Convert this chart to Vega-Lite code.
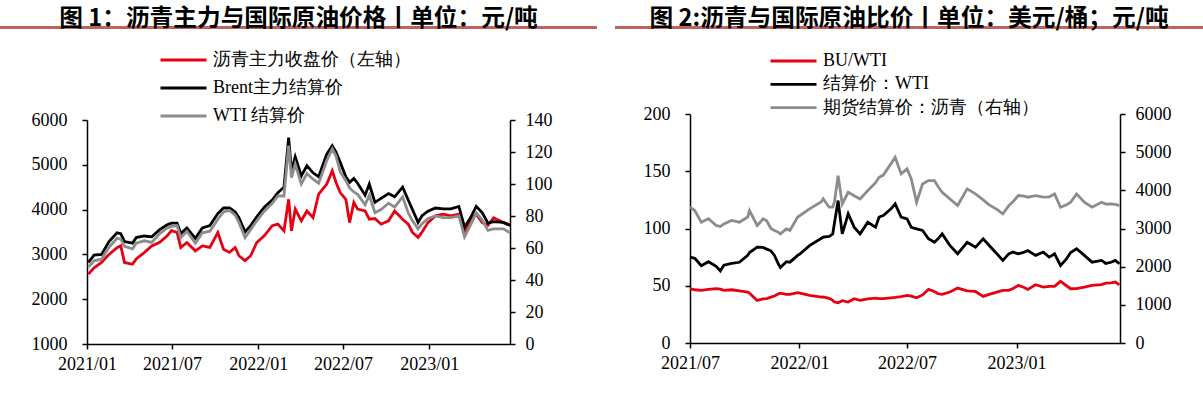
{
"$schema": "https://vega.github.io/schema/vega-lite/v6.json",
"padding": {"top": 6, "left": 0, "right": 0, "bottom": 0},
"background": "white",
"spacing": 18,
"resolve": {"scale": {"color": "independent"}, "legend": {"color": "independent"}},
"config": {
  "view": {"stroke": null},
  "axis": {"domainColor": "#000", "domainWidth": 1.5, "tickColor": "#000", "tickWidth": 1.5, "tickSize": 5, "labelFont": "Liberation Serif", "labelFontSize": 18, "labelColor": "#000", "grid": false, "title": null},
  "title": {"font": "Noto Sans CJK SC", "fontSize": 23.7, "fontWeight": "bold", "color": "#000", "anchor": "middle", "baseline": "alphabetic", "offset": -9},
  "legend": {"orient": "none", "direction": "vertical", "labelFont": "Liberation Serif", "labelFontSize": 18, "labelColor": "#000", "symbolType": "M-2.875,0H2.875", "symbolSize": 256, "symbolStrokeWidth": 3, "padding": 0, "labelLimit": 400, "labelOffset": 20},
  "line": {"strokeWidth": 2.8}
},
"datasets": {
  "p1": [
    {"d":"2021-01-04","bu":2560,"brent":51,"wti":48},
    {"d":"2021-01-16","bu":2700,"brent":55.5,"wti":52},
    {"d":"2021-02-01","bu":2820,"brent":56,"wti":53},
    {"d":"2021-02-17","bu":3000,"brent":64,"wti":60.5},
    {"d":"2021-03-06","bu":3150,"brent":69.5,"wti":66},
    {"d":"2021-03-14","bu":3190,"brent":69,"wti":65.5},
    {"d":"2021-03-22","bu":2820,"brent":64,"wti":61},
    {"d":"2021-04-08","bu":2780,"brent":63,"wti":59.5},
    {"d":"2021-04-16","bu":2900,"brent":66.5,"wti":63},
    {"d":"2021-05-03","bu":3040,"brent":67.5,"wti":64.5},
    {"d":"2021-05-19","bu":3190,"brent":67,"wti":63.5},
    {"d":"2021-06-05","bu":3270,"brent":71.5,"wti":69},
    {"d":"2021-06-21","bu":3415,"brent":74.5,"wti":72.5},
    {"d":"2021-06-30","bu":3530,"brent":75.5,"wti":73.5},
    {"d":"2021-07-12","bu":3490,"brent":75.5,"wti":74},
    {"d":"2021-07-20","bu":3155,"brent":69,"wti":66.5},
    {"d":"2021-08-02","bu":3265,"brent":72.5,"wti":70.5},
    {"d":"2021-08-20","bu":3080,"brent":66,"wti":63},
    {"d":"2021-09-04","bu":3190,"brent":72.5,"wti":69.5},
    {"d":"2021-09-20","bu":3155,"brent":74,"wti":70.5},
    {"d":"2021-10-07","bu":3490,"brent":81.5,"wti":78},
    {"d":"2021-10-19","bu":3115,"brent":85,"wti":82.5},
    {"d":"2021-11-01","bu":3045,"brent":85,"wti":83.5},
    {"d":"2021-11-13","bu":3155,"brent":82.5,"wti":80.5},
    {"d":"2021-11-21","bu":2970,"brent":79,"wti":76},
    {"d":"2021-12-04","bu":2860,"brent":70,"wti":66.5},
    {"d":"2021-12-16","bu":2970,"brent":74,"wti":71.5},
    {"d":"2021-12-29","bu":3265,"brent":79.5,"wti":77},
    {"d":"2022-01-14","bu":3415,"brent":85.5,"wti":83},
    {"d":"2022-01-31","bu":3640,"brent":90,"wti":88},
    {"d":"2022-02-12","bu":3675,"brent":94.5,"wti":92.5},
    {"d":"2022-02-25","bu":3525,"brent":98,"wti":92.5},
    {"d":"2022-03-07","bu":4230,"brent":129,"wti":124},
    {"d":"2022-03-13","bu":3525,"brent":108,"wti":104},
    {"d":"2022-03-21","bu":4010,"brent":117,"wti":112.5},
    {"d":"2022-04-03","bu":3750,"brent":105,"wti":100},
    {"d":"2022-04-15","bu":3970,"brent":111.5,"wti":106.5},
    {"d":"2022-04-28","bu":3820,"brent":107,"wti":103},
    {"d":"2022-05-10","bu":4345,"brent":104.5,"wti":100.5},
    {"d":"2022-05-27","bu":4565,"brent":118.5,"wti":114.5},
    {"d":"2022-06-08","bu":4865,"brent":124,"wti":122},
    {"d":"2022-06-16","bu":4605,"brent":120,"wti":117.5},
    {"d":"2022-06-25","bu":4380,"brent":113.5,"wti":107.5},
    {"d":"2022-07-07","bu":4230,"brent":104.5,"wti":102},
    {"d":"2022-07-15","bu":3710,"brent":101,"wti":97.5},
    {"d":"2022-07-24","bu":4160,"brent":103.5,"wti":95},
    {"d":"2022-08-01","bu":4010,"brent":100.5,"wti":93.5},
    {"d":"2022-08-17","bu":3970,"brent":93,"wti":87},
    {"d":"2022-08-26","bu":3785,"brent":100,"wti":93},
    {"d":"2022-09-07","bu":3800,"brent":88.5,"wti":82},
    {"d":"2022-09-20","bu":3675,"brent":91,"wti":84},
    {"d":"2022-10-06","bu":3750,"brent":94,"wti":88},
    {"d":"2022-10-19","bu":3970,"brent":92,"wti":85.5},
    {"d":"2022-11-05","bu":3785,"brent":98,"wti":92},
    {"d":"2022-11-17","bu":3675,"brent":90,"wti":82},
    {"d":"2022-11-26","bu":3490,"brent":84,"wti":77},
    {"d":"2022-12-08","bu":3380,"brent":76,"wti":72},
    {"d":"2022-12-16","bu":3490,"brent":80,"wti":75},
    {"d":"2022-12-29","bu":3710,"brent":83,"wti":78.5},
    {"d":"2023-01-14","bu":3860,"brent":85,"wti":80},
    {"d":"2023-01-31","bu":3900,"brent":84.5,"wti":79},
    {"d":"2023-02-16","bu":3860,"brent":84.5,"wti":79},
    {"d":"2023-03-05","bu":3900,"brent":86,"wti":80},
    {"d":"2023-03-17","bu":3490,"brent":73,"wti":67},
    {"d":"2023-03-30","bu":3785,"brent":79,"wti":74.5},
    {"d":"2023-04-11","bu":3900,"brent":86,"wti":82},
    {"d":"2023-04-24","bu":3710,"brent":82,"wti":77.5},
    {"d":"2023-05-06","bu":3650,"brent":75.5,"wti":71},
    {"d":"2023-05-18","bu":3820,"brent":76.5,"wti":72},
    {"d":"2023-06-08","bu":3710,"brent":76,"wti":72},
    {"d":"2023-06-22","bu":3660,"brent":74,"wti":69.5}
  ],
  "p2": [
    {"d":"2021-07-01","ratio":47.4,"wti":75,"bu":3560},
    {"d":"2021-07-09","ratio":46.5,"wti":74,"bu":3470},
    {"d":"2021-07-20","ratio":46,"wti":67.5,"bu":3165},
    {"d":"2021-08-01","ratio":46.8,"wti":71,"bu":3255},
    {"d":"2021-08-14","ratio":47.4,"wti":67,"bu":3080},
    {"d":"2021-08-21","ratio":47,"wti":63,"bu":3050},
    {"d":"2021-08-27","ratio":46,"wti":68,"bu":3120},
    {"d":"2021-09-09","ratio":46.5,"wti":69.5,"bu":3210},
    {"d":"2021-09-22","ratio":45.5,"wti":70.5,"bu":3165},
    {"d":"2021-10-06","ratio":44.5,"wti":76.5,"bu":3300},
    {"d":"2021-10-09","ratio":43.5,"wti":79,"bu":3470},
    {"d":"2021-10-22","ratio":37.2,"wti":83.7,"bu":3080},
    {"d":"2021-11-01","ratio":38.5,"wti":83.5,"bu":3255},
    {"d":"2021-11-07","ratio":38.7,"wti":82,"bu":3200},
    {"d":"2021-11-14","ratio":40,"wti":80.5,"bu":3000},
    {"d":"2021-11-20","ratio":41,"wti":76.5,"bu":2950},
    {"d":"2021-11-27","ratio":43,"wti":68.5,"bu":2900},
    {"d":"2021-11-30","ratio":43.5,"wti":66,"bu":2860},
    {"d":"2021-12-10","ratio":42.4,"wti":71,"bu":2990},
    {"d":"2021-12-16","ratio":42.4,"wti":70.6,"bu":2950},
    {"d":"2021-12-29","ratio":43.9,"wti":76.5,"bu":3300},
    {"d":"2022-01-02","ratio":43.5,"wti":77.9,"bu":3340},
    {"d":"2022-01-18","ratio":41.6,"wti":85,"bu":3514},
    {"d":"2022-02-07","ratio":40,"wti":91.5,"bu":3700},
    {"d":"2022-02-10","ratio":40.2,"wti":92.4,"bu":3776},
    {"d":"2022-02-20","ratio":39,"wti":93,"bu":3558},
    {"d":"2022-02-26","ratio":37.2,"wti":95.3,"bu":3560},
    {"d":"2022-03-01","ratio":35.8,"wti":105,"bu":3700},
    {"d":"2022-03-07","ratio":35.2,"wti":124.4,"bu":4386},
    {"d":"2022-03-14","ratio":37,"wti":95.3,"bu":3645},
    {"d":"2022-03-24","ratio":35.8,"wti":112.8,"bu":3950},
    {"d":"2022-04-03","ratio":38.7,"wti":101.2,"bu":3860},
    {"d":"2022-04-13","ratio":37.2,"wti":95.3,"bu":3776},
    {"d":"2022-04-26","ratio":38.5,"wti":105.5,"bu":3994},
    {"d":"2022-05-09","ratio":39.2,"wti":101.2,"bu":4200},
    {"d":"2022-05-15","ratio":38.7,"wti":110,"bu":4343},
    {"d":"2022-05-22","ratio":38.7,"wti":111.3,"bu":4400},
    {"d":"2022-06-04","ratio":39.5,"wti":117.2,"bu":4700},
    {"d":"2022-06-11","ratio":39.8,"wti":121.5,"bu":4866},
    {"d":"2022-06-21","ratio":40.5,"wti":109.9,"bu":4430},
    {"d":"2022-07-01","ratio":41.6,"wti":108.4,"bu":4561},
    {"d":"2022-07-08","ratio":41,"wti":101,"bu":4300},
    {"d":"2022-07-17","ratio":39.5,"wti":99.7,"bu":3689},
    {"d":"2022-07-27","ratio":42,"wti":98.3,"bu":4168},
    {"d":"2022-08-06","ratio":46.8,"wti":91,"bu":4255},
    {"d":"2022-08-16","ratio":45,"wti":88,"bu":4255},
    {"d":"2022-08-22","ratio":43,"wti":91,"bu":4100},
    {"d":"2022-08-29","ratio":42.5,"wti":95.3,"bu":3950},
    {"d":"2022-09-11","ratio":44.5,"wti":85.2,"bu":3776},
    {"d":"2022-09-24","ratio":48,"wti":77.9,"bu":3601},
    {"d":"2022-10-10","ratio":45.5,"wti":88,"bu":4037},
    {"d":"2022-10-24","ratio":45,"wti":83.7,"bu":3907},
    {"d":"2022-11-06","ratio":40.7,"wti":91,"bu":3750},
    {"d":"2022-11-16","ratio":42.5,"wti":85.2,"bu":3620},
    {"d":"2022-11-29","ratio":44.5,"wti":77.9,"bu":3500},
    {"d":"2022-12-09","ratio":46,"wti":72.1,"bu":3383},
    {"d":"2022-12-19","ratio":46,"wti":77.9,"bu":3601},
    {"d":"2022-12-26","ratio":47.5,"wti":79.4,"bu":3700},
    {"d":"2023-01-04","ratio":50.3,"wti":77.9,"bu":3863},
    {"d":"2023-01-14","ratio":48.5,"wti":79.4,"bu":3850},
    {"d":"2023-01-20","ratio":46.8,"wti":80.8,"bu":3820},
    {"d":"2023-02-02","ratio":50.9,"wti":76.5,"bu":3863},
    {"d":"2023-02-15","ratio":48.8,"wti":79.4,"bu":3820},
    {"d":"2023-02-25","ratio":49.4,"wti":75,"bu":3830},
    {"d":"2023-03-06","ratio":49.4,"wti":77.9,"bu":3907},
    {"d":"2023-03-16","ratio":53.8,"wti":67.7,"bu":3558},
    {"d":"2023-03-26","ratio":50,"wti":73.5,"bu":3620},
    {"d":"2023-04-02","ratio":47.4,"wti":79,"bu":3689},
    {"d":"2023-04-12","ratio":47.5,"wti":82.3,"bu":3907},
    {"d":"2023-04-25","ratio":48.8,"wti":76.5,"bu":3689},
    {"d":"2023-05-08","ratio":50.3,"wti":70.6,"bu":3558},
    {"d":"2023-05-24","ratio":51,"wti":72.1,"bu":3689},
    {"d":"2023-05-31","ratio":52.3,"wti":69.5,"bu":3640},
    {"d":"2023-06-09","ratio":52.5,"wti":70.5,"bu":3645},
    {"d":"2023-06-16","ratio":53.2,"wti":72.1,"bu":3630},
    {"d":"2023-06-23","ratio":50.9,"wti":69.2,"bu":3601}
  ]
},
"hconcat": [
  {
    "spacing": 0,
    "vconcat": [
      {
        "width": 597, "height": 3,
        "title": {"text": "图 1：沥青主力与国际原油价格丨单位：元/吨"},
        "view": {"fill": "#c0625e", "stroke": null},
        "data": {"values": [{}]},
        "mark": {"type": "text"},
        "encoding": {"text": {"value": ""}}
      },
      {
        "spacing": 0,
        "hconcat": [
          {
            "width": 1, "height": 1,
            "data": {"values": [{}]},
            "mark": {"type": "text"},
            "encoding": {"text": {"value": ""}}
          },
          {
            "width": 423, "height": 224,
            "data": {"name": "p1"},
            "layer": [
              {
                "mark": {"type": "line"},
                "encoding": {
                  "x": {"field": "d", "type": "temporal",
                    "scale": {"type": "utc", "domain": [{"year": 2021, "month": 1, "date": 1, "utc": true}, {"year": 2023, "month": 6, "date": 22, "utc": true}]},
                    "axis": {"orient": "bottom", "values": [{"year": 2021, "month": 1, "date": 1, "utc": true}, {"year": 2021, "month": 7, "date": 1, "utc": true}, {"year": 2022, "month": 1, "date": 1, "utc": true}, {"year": 2022, "month": 7, "date": 1, "utc": true}, {"year": 2023, "month": 1, "date": 1, "utc": true}], "format": "%Y/%m", "labelPadding": 6, "minExtent": 71, "labelFlush": false, "labelOverlap": false}},
                  "y": {"field": "bu", "type": "quantitative", "scale": {"domain": [1000, 6000]},
                    "axis": {"orient": "left", "values": [1000, 2000, 3000, 4000, 5000, 6000], "format": "d", "labelPadding": 15, "minExtent": 86}},
                  "color": {"datum": "bu", "type": "nominal", "title": null,
                    "scale": {"domain": ["bu", "brent", "wti"], "range": ["#e60012", "#000000", "#8c8c8c"]},
                    "legend": {"title": null, "legendX": 174, "legendY": 24.5, "rowPadding": 9,
                      "labelExpr": "datum.value == 'bu' ? '沥青主力收盘价（左轴）' : datum.value == 'brent' ? 'Brent主力结算价' : 'WTI 结算价'"}}
                }
              },
              {
                "transform": [{"fold": ["brent", "wti"], "as": ["key", "val"]}],
                "mark": {"type": "line"},
                "encoding": {
                  "x": {"field": "d", "type": "temporal",
                    "axis": {"orient": "top", "domain": false, "ticks": false, "labels": false, "minExtent": 87}},
                  "y": {"field": "val", "type": "quantitative", "scale": {"domain": [0, 140]},
                    "axis": {"orient": "right", "values": [0, 20, 40, 60, 80, 100, 120, 140], "format": "d", "labelPadding": 10}},
                  "color": {"field": "key", "type": "nominal", "title": null}
                }
              }
            ],
            "resolve": {"scale": {"y": "independent"}, "axis": {"x": "independent"}}
          }
        ]
      },
      {
        "width": 597, "height": 3,
        "view": {"fill": "#c0625e", "stroke": null},
        "data": {"values": [{}]},
        "mark": {"type": "text"},
        "encoding": {"text": {"value": ""}}
      }
    ]
  },
  {
    "spacing": 0,
    "vconcat": [
      {
        "width": 588, "height": 3,
        "title": {"text": "图 2:沥青与国际原油比价丨单位：美元/桶；元/吨"},
        "view": {"fill": "#c0625e", "stroke": null},
        "data": {"values": [{}]},
        "mark": {"type": "text"},
        "encoding": {"text": {"value": ""}}
      },
      {
        "spacing": 0,
        "hconcat": [
          {
            "width": 1, "height": 1,
            "data": {"values": [{}]},
            "mark": {"type": "text"},
            "encoding": {"text": {"value": ""}}
          },
          {
            "width": 430, "height": 229,
            "data": {"name": "p2"},
            "layer": [
              {
                "transform": [{"fold": ["ratio", "wti"], "as": ["key", "val"]}],
                "mark": {"type": "line"},
                "encoding": {
                  "x": {"field": "d", "type": "temporal",
                    "scale": {"type": "utc", "domain": [{"year": 2021, "month": 7, "date": 1, "utc": true}, {"year": 2023, "month": 6, "date": 24, "utc": true}]},
                    "axis": {"orient": "bottom", "values": [{"year": 2021, "month": 7, "date": 1, "utc": true}, {"year": 2022, "month": 1, "date": 1, "utc": true}, {"year": 2022, "month": 7, "date": 1, "utc": true}, {"year": 2023, "month": 1, "date": 1, "utc": true}], "format": "%Y/%m", "labelPadding": 6, "minExtent": 72, "labelFlush": false, "labelOverlap": false}},
                  "y": {"field": "val", "type": "quantitative", "scale": {"domain": [0, 200]},
                    "axis": {"orient": "left", "values": [0, 50, 100, 150, 200], "format": "d", "labelPadding": 15, "minExtent": 74}},
                  "color": {"field": "key", "type": "nominal", "title": null,
                    "scale": {"domain": ["ratio", "wti", "bu"], "range": ["#e60012", "#000000", "#8c8c8c"]},
                    "legend": {"title": null, "legendX": 169, "legendY": 25.5, "rowPadding": 4.3,
                      "labelExpr": "datum.value == 'ratio' ? 'BU/WTI' : datum.value == 'wti' ? '结算价：WTI' : '期货结算价：沥青（右轴）'"}}
                }
              },
              {
                "mark": {"type": "line"},
                "encoding": {
                  "x": {"field": "d", "type": "temporal",
                    "axis": {"orient": "top", "domain": false, "ticks": false, "labels": false, "minExtent": 81}},
                  "y": {"field": "bu", "type": "quantitative", "scale": {"domain": [0, 6000]},
                    "axis": {"orient": "right", "values": [0, 1000, 2000, 3000, 4000, 5000, 6000], "format": "d", "labelPadding": 10}},
                  "color": {"datum": "bu", "type": "nominal", "title": null}
                }
              }
            ],
            "resolve": {"scale": {"y": "independent"}, "axis": {"x": "independent"}}
          }
        ]
      },
      {
        "width": 588, "height": 3,
        "view": {"fill": "#c0625e", "stroke": null},
        "data": {"values": [{}]},
        "mark": {"type": "text"},
        "encoding": {"text": {"value": ""}}
      }
    ]
  }
]
}
